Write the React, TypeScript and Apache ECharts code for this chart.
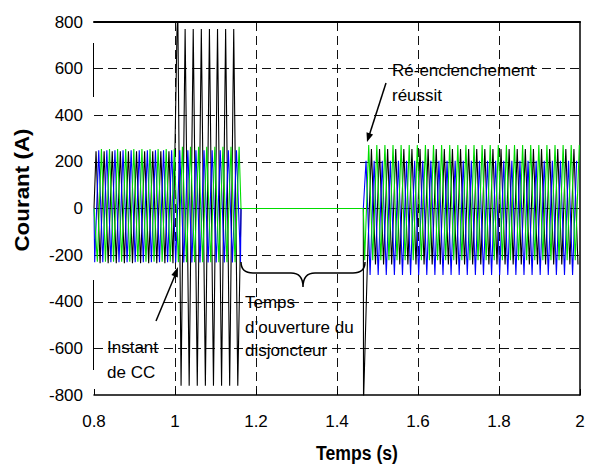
import React, { useEffect, useRef } from "react";
import * as echarts from "echarts";

// ---- data ----
// time boundaries (s): pre-fault | short-circuit | breaker open | reclosed
const segmentTimes = [0.8, 1.0, 1.163, 1.465, 2.0];
const periodS = 0.02; // 50 Hz
// [positive peak, negative peak] in each segment (A)
const blackPeaks = [[245, -235], [770, -760], [0, 0], [255, -240]];
const bluePeaks = [[250, -230], [250, -232], [0, 0], [205, -285]];
const greenPeaks = [[255, -228], [265, -230], [0, 0], [272, -222]];
// time of the first positive peak of each phase (s)
const blackShiftS = 0.005;
const blueShiftS = 0.0117;
const greenShiftS = 0.0183;
// isolated spikes of the black phase (time s, current A)
const blackSpikes = [[1.007, 830], [1.4655, -830]];

const xMin = 0.8, xMax = 2, xStep = 0.2;
const yMin = -800, yMax = 800, yStep = 200;

function buildPhase(pairs: number[][], shift: number, extra: number[][] = []) {
  const pts: number[][] = [[segmentTimes[0], 0]];
  const half = periodS / 2;
  for (let s = 0; s < pairs.length; s++) {
    const start = segmentTimes[s];
    const end = segmentTimes[s + 1];
    const [pos, neg] = pairs[s];
    if (pos === 0 && neg === 0) {
      pts.push([start, 0], [end, 0]);
      continue;
    }
    let k = Math.ceil((start - shift) / half);
    for (;;) {
      const t = shift + k * half;
      if (t >= end) break;
      if (t > start) pts.push([+t.toFixed(5), k % 2 === 0 ? pos : neg]);
      k++;
    }
  }
  extra.forEach((p) => pts.push(p));
  pts.sort((a, b) => a[0] - b[0]);
  return pts;
}

const blackData = buildPhase(blackPeaks, blackShiftS, blackSpikes);
const blueData = buildPhase(bluePeaks, blueShiftS);
const greenData = buildPhase(greenPeaks, greenShiftS);

const braceD =
  "M241,262 C241,270 245,273 253,273 L291,273 C299,273 303,277 303,287 C303,277 307,273 315,273 L353,273 C361,273 365,270 365,262";
echarts.graphic.registerShape("brace", echarts.graphic.extendPath(braceD, {}));

const FONT = "Liberation Sans, Arial, sans-serif";

export default function App() {
  const ref = useRef<HTMLDivElement>(null);
  useEffect(() => {
    if (!ref.current) return;
    const chart = echarts.init(ref.current, null, { renderer: "svg" });
    const dash = { color: "#111", width: 1, type: [9, 5] as any };
    const annText = (text: string, x: number, y: number) => ({
      type: "text",
      x,
      y,
      z: 100,
      style: {
        text,
        font: `17px ${FONT}`,
        fill: "#000",
        align: "left",
        verticalAlign: "middle",
        textAlign: "left",
        textVerticalAlign: "middle",
      },
    });
    chart.setOption({
      animation: false,
      backgroundColor: "#fff",
      grid: { left: 94, right: 15, top: 22, bottom: 72 },
      xAxis: [
        {
          type: "value",
          min: xMin,
          max: xMax,
          interval: xStep,
          position: "bottom",
          axisLine: { show: true, onZero: false, lineStyle: { color: "#000", width: 1.5 } },
          axisTick: { show: true, inside: true, length: 6, lineStyle: { color: "#000" } },
          axisLabel: {
            color: "#000",
            fontFamily: FONT,
            fontSize: 17,
            margin: 18,
            formatter: (v: number) => String(+v.toFixed(1)),
          },
          splitLine: { show: true, showMinLine: false, showMaxLine: false, lineStyle: dash },
        },
        {
          type: "value",
          min: xMin,
          max: xMax,
          interval: xStep,
          position: "top",
          axisLine: { show: true, onZero: false, lineStyle: { color: "#000", width: 2 } },
          axisTick: { show: false },
          axisLabel: { show: false },
          splitLine: { show: false },
        },
      ],
      yAxis: [
        {
          type: "value",
          min: yMin,
          max: yMax,
          interval: yStep,
          position: "left",
          axisLine: { show: false },
          axisTick: { show: false },
          axisLabel: { color: "#000", fontFamily: FONT, fontSize: 17, margin: 11 },
          splitLine: { show: true, showMinLine: false, showMaxLine: false, lineStyle: dash },
        },
        {
          type: "value",
          min: yMin,
          max: yMax,
          interval: yStep,
          position: "right",
          axisLine: { show: true, onZero: false, lineStyle: { color: "#000", width: 1.5 } },
          axisTick: { show: false },
          axisLabel: { show: false },
          splitLine: { show: false },
        },
      ],
      series: [
        {
          name: "Phase c",
          type: "line",
          data: blackData,
          showSymbol: false,
          clip: true,
          lineStyle: { color: "#000", width: 1.1 },
          z: 2,
        },
        {
          name: "Phase a",
          type: "line",
          data: blueData,
          showSymbol: false,
          clip: true,
          lineStyle: { color: "#0000ff", width: 1.1 },
          z: 3,
        },
        {
          name: "Phase b",
          type: "line",
          data: greenData,
          showSymbol: false,
          clip: true,
          lineStyle: { color: "#00dd00", width: 1.1 },
          z: 4,
        },
      ],
      graphic: [
        {
          type: "text",
          x: 22,
          y: 190,
          rotation: Math.PI / 2,
          scaleX: 1.12,
          style: {
            text: "Courant (A)",
            font: `bold 20px ${FONT}`,
            fill: "#000",
            align: "center",
            verticalAlign: "middle",
            textAlign: "center",
            textVerticalAlign: "middle",
          },
        },
        {
          type: "text",
          x: 357,
          y: 452,
          scaleX: 0.84,
          style: {
            text: "Temps (s)",
            font: `bold 21px ${FONT}`,
            fill: "#000",
            align: "center",
            verticalAlign: "middle",
            textAlign: "center",
            textVerticalAlign: "middle",
          },
        },
        annText("Ré-enclenchement", 392, 70),
        annText("réussit", 392, 95),
        annText("Instant", 107, 347),
        annText("de CC", 107, 372),
        annText("Temps", 245, 302),
        annText("d\u2019ouverture du", 245, 327),
        annText("disjoncteur", 245, 350),
        {
          type: "brace",
          z: 100,
          style: { fill: "none", stroke: "#000", lineWidth: 1.5 },
        },
        {
          type: "line",
          z: 100,
          shape: { x1: 156, y1: 321, x2: 176, y2: 273 },
          style: { stroke: "#000", lineWidth: 1.5 },
        },
        {
          type: "polygon",
          z: 100,
          shape: { points: [[178, 267], [177.8, 277.6], [171.4, 275]] },
          style: { fill: "#000" },
        },
        {
          type: "line",
          z: 100,
          shape: { x1: 386, y1: 83, x2: 369, y2: 136 },
          style: { stroke: "#000", lineWidth: 1.5 },
        },
        {
          type: "polygon",
          z: 100,
          shape: { points: [[367, 142], [373.1, 134.5], [366.5, 132.3]] },
          style: { fill: "#000" },
        },
        {
          type: "line",
          z: 100,
          shape: { x1: 93.5, y1: 43, x2: 93.5, y2: 97 },
          style: { stroke: "#000", lineWidth: 1 },
        },
        {
          type: "line",
          z: 100,
          shape: { x1: 93.5, y1: 280, x2: 93.5, y2: 370 },
          style: { stroke: "#000", lineWidth: 1 },
        },
      ],
    });
    return () => chart.dispose();
  }, []);
  return (
    <div
      ref={ref}
      style={{ position: "fixed", left: 0, top: 0, width: 595, height: 467, background: "#fff" }}
    />
  );
}
